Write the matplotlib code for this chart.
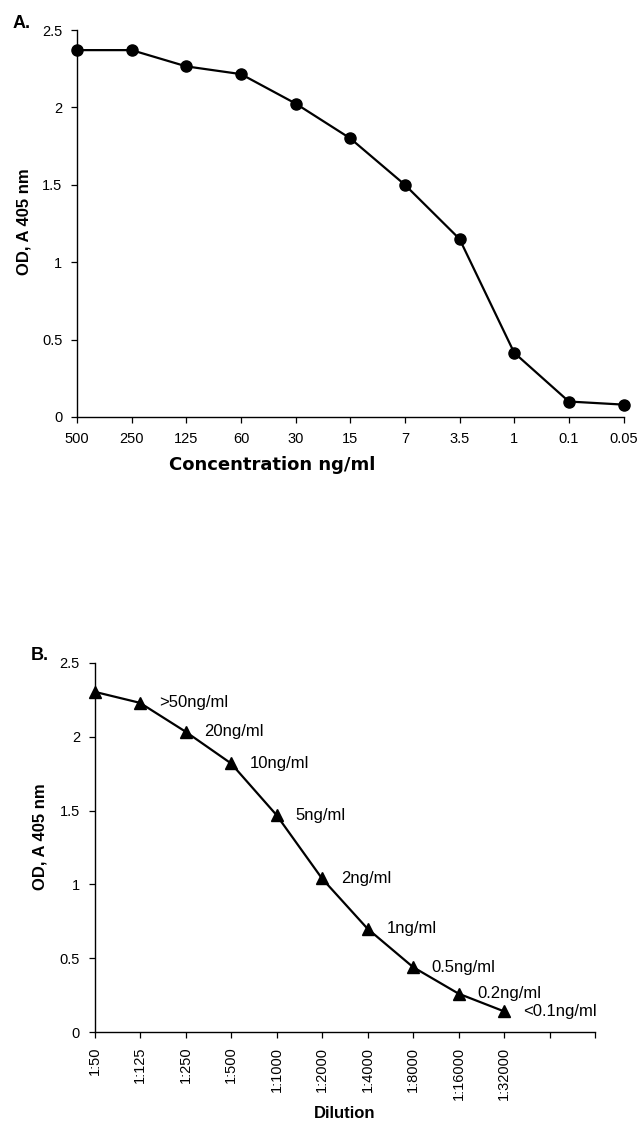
import matplotlib
matplotlib.use("Agg")
import matplotlib.pyplot as plt

# ---------------- data ----------------
conc_labels = ["500", "250", "125", "60", "30", "15", "7", "3.5", "1", "0.1", "0.05"]
od_a = [2.37, 2.37, 2.265, 2.215, 2.025, 1.80, 1.50, 1.15, 0.415, 0.10, 0.08]

dilution_labels = ["1:50", "1:125", "1:250", "1:500", "1:1000", "1:2000",
                   "1:4000", "1:8000", "1:16000", "1:32000"]
od_b = [2.305, 2.23, 2.035, 1.82, 1.47, 1.04, 0.70, 0.44, 0.26, 0.14]
conc_b_labels = ["", ">50ng/ml", "20ng/ml", "10ng/ml", "5ng/ml", "2ng/ml",
                 "1ng/ml", "0.5ng/ml", "0.2ng/ml", "<0.1ng/ml"]

y_ticks = [0, 0.5, 1, 1.5, 2, 2.5]
y_tick_labels = ["0", "0.5", "1", "1.5", "2", "2.5"]

FONT = "Liberation Sans"

fig = plt.figure(figsize=(6.39, 11.27), dpi=100)

def style_axes(ax):
    for s in ("top", "right"):
        ax.spines[s].set_visible(False)
    for s in ("left", "bottom"):
        ax.spines[s].set_linewidth(1.0)
        ax.spines[s].set_color("black")
    ax.set_ylim(0, 2.5)
    ax.set_yticks(y_ticks)
    ax.set_yticklabels(y_tick_labels, fontfamily=FONT, fontsize=10.5)
    ax.tick_params(axis="both", direction="out", length=4.5, width=0.9,
                   color="black", pad=6)

# ---------------- Panel A ----------------
axA = fig.add_axes([77 / 639, 1 - 417 / 1127, (623.5 - 77) / 639, (417 - 30) / 1127])
xa = list(range(len(conc_labels)))
axA.plot(xa, od_a, color="black", lw=1.6, marker="o", markersize=8,
         markerfacecolor="black", markeredgecolor="black", clip_on=False, zorder=3)
axA.set_xlim(0, len(conc_labels) - 1)
style_axes(axA)
axA.set_xticks(xa)
axA.set_xticklabels(conc_labels, fontfamily=FONT, fontsize=10.5)
axA.set_ylabel("OD, A 405 nm", fontfamily=FONT, fontweight="bold", fontsize=12)
axA.yaxis.set_label_coords(-0.083, 0.505)
fig.text(272 / 639, 1 - 465 / 1127, "Concentration ng/ml", ha="center", va="center",
         fontfamily="DejaVu Sans", fontweight="bold", fontsize=13)
fig.text(13 / 639, 1 - 23 / 1127, "A.", ha="left", va="center",
         fontfamily=FONT, fontweight="bold", fontsize=13)

# ---------------- Panel B ----------------
axB = fig.add_axes([94.5 / 639, 1 - 1032 / 1127, (595 - 94.5) / 639, (1032 - 663) / 1127])
xb = list(range(len(dilution_labels)))
axB.plot(xb, od_b, color="black", lw=1.6, marker="^", markersize=8,
         markerfacecolor="black", markeredgecolor="black", clip_on=False, zorder=3)
axB.set_xlim(0, len(dilution_labels) + 1)
style_axes(axB)
axB.set_xticks(list(range(len(dilution_labels) + 2)))
axB.set_xticklabels(dilution_labels + ["", ""], rotation=90,
                    fontfamily=FONT, fontsize=10.5)
for x, y, lab in zip(xb, od_b, conc_b_labels):
    if lab:
        axB.annotate(lab, (x, y), xytext=(13.5, 0), textcoords="offset points",
                     ha="left", va="center", fontfamily=FONT, fontsize=12)
axB.set_ylabel("OD, A 405 nm", fontfamily=FONT, fontweight="bold", fontsize=12)
axB.yaxis.set_label_coords(-0.093, 0.53)
fig.text(345 / 639, 1 - 1114 / 1127, "Dilution", ha="center", va="center",
         fontfamily=FONT, fontweight="bold", fontsize=12)
fig.text(31 / 639, 1 - 656 / 1127, "B.", ha="left", va="center",
         fontfamily=FONT, fontweight="bold", fontsize=13)

fig.savefig("out.png", dpi=100, facecolor="white")
